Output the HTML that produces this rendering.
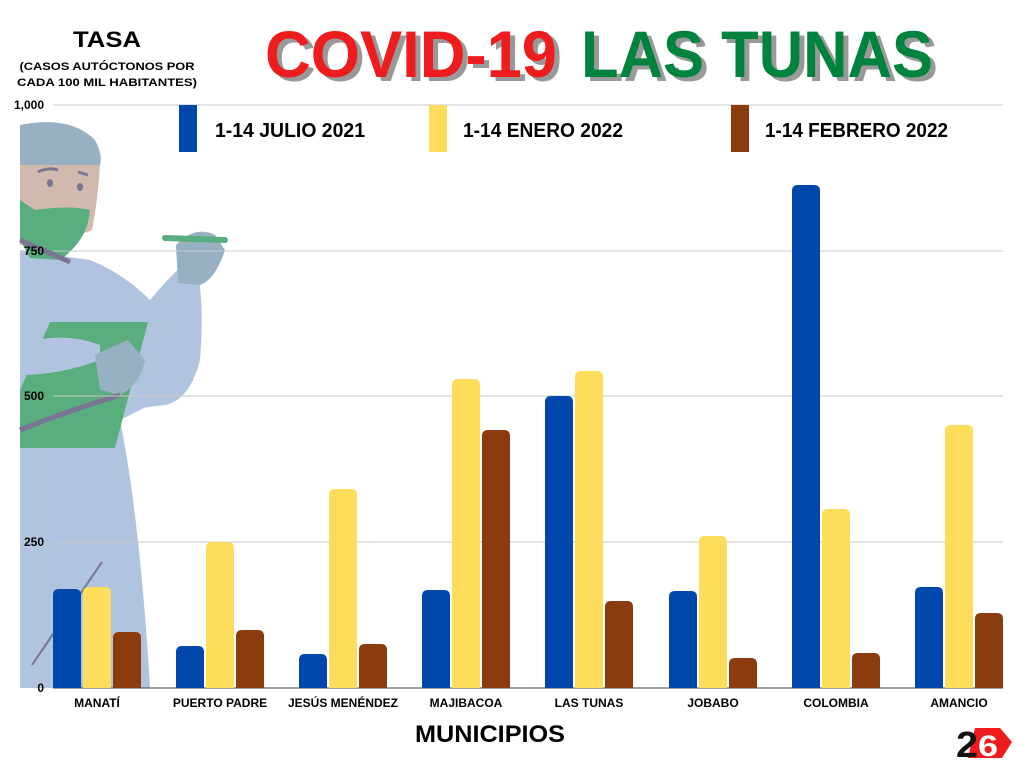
<!DOCTYPE html>
<html><head><meta charset="utf-8"><style>
html,body{margin:0;padding:0;background:#fff;}
svg{display:block;font-family:"Liberation Sans",sans-serif;}
</style></head><body>
<svg width="1024" height="768" viewBox="0 0 1024 768" xmlns="http://www.w3.org/2000/svg">
<rect width="1024" height="768" fill="#fff"/>
<!-- illustration -->
<g>
  <path d="M20,250 L90,260 Q140,280 175,330 L160,400 L120,420 Q140,520 150,688 L20,688 Z" fill="#b0c3df"/>
  <path d="M150,300 Q175,270 195,255 Q205,300 200,360 Q190,400 165,405 L125,410 Z" fill="#b0c3df"/>
  <path d="M20,125 Q70,115 95,140 Q103,155 100,165 L20,165 Z" fill="#97b0c2"/>
  <path d="M20,165 L100,165 Q98,200 92,230 L55,245 L20,245 Z" fill="#d2b9ad"/>
  <path d="M20,200 L35,210 Q70,205 90,210 Q88,240 60,260 L30,258 L20,240 Z" fill="#5aad7c"/>
  <path d="M20,240 L70,262" stroke="#7b7595" stroke-width="5" fill="none"/>
  <ellipse cx="50" cy="183" rx="3" ry="4" fill="#7b7595"/>
  <ellipse cx="80" cy="187" rx="3" ry="4" fill="#7b7595"/>
  <path d="M38,172 Q48,167 58,170 M78,172 L88,175" stroke="#7b7595" stroke-width="3" fill="none"/>
  <path d="M50,322 L148,322 L115,448 L20,448 L20,390 Z" fill="#5aad7c"/>
  <path d="M20,345 Q60,330 100,345 L100,360 Q60,375 20,375 Z" fill="#b0c3df"/>
  <path d="M95,355 Q115,345 128,340 L145,360 Q140,385 120,395 L100,390 Z" fill="#97b0c2"/>
  <path d="M20,430 Q70,410 120,395" stroke="#7b7595" stroke-width="5" fill="none"/>
  <path d="M176,245 Q195,225 215,235 L225,250 Q215,280 200,285 L178,283 Z" fill="#97b0c2"/>
  <path d="M165,238 L225,240" stroke="#5aad7c" stroke-width="6" stroke-linecap="round"/>
  <path d="M32,665 L102,562" stroke="#7b7595" stroke-width="2"/>
</g>
<!-- grid -->
<g stroke="#c8c8c8" stroke-width="1">
  <line x1="53" y1="105" x2="1003" y2="105"/>
  <line x1="53" y1="251" x2="1003" y2="251"/>
  <line x1="53" y1="396" x2="1003" y2="396"/>
  <line x1="53" y1="542" x2="1003" y2="542"/>
</g>
<line x1="53" y1="688" x2="1003" y2="688" stroke="#444" stroke-width="1"/>
<g font-size="12" font-weight="bold" fill="#000" text-anchor="end">
  <text x="44" y="109">1,000</text>
  <text x="44" y="255">750</text>
  <text x="44" y="400">500</text>
  <text x="44" y="546">250</text>
  <text x="44" y="692">0</text>
</g>
<!-- bars -->
<g id="bars"></g>
<g>
<!-- blue, yellow, brown per group: tops -->
</g>
<defs></defs>
<g>
<path d="M53,688 V595 q0,-6 6,-6 h16 q6,0 6,6 V688 Z" fill="#0047ab"/>
<path d="M83,688 V593 q0,-6 6,-6 h16 q6,0 6,6 V688 Z" fill="#ffdd5c"/>
<path d="M113,688 V638 q0,-6 6,-6 h16 q6,0 6,6 V688 Z" fill="#8b3c0e"/>

<path d="M176,688 V652 q0,-6 6,-6 h16 q6,0 6,6 V688 Z" fill="#0047ab"/>
<path d="M206,688 V548 q0,-6 6,-6 h16 q6,0 6,6 V688 Z" fill="#ffdd5c"/>
<path d="M236,688 V636 q0,-6 6,-6 h16 q6,0 6,6 V688 Z" fill="#8b3c0e"/>

<path d="M299,688 V660 q0,-6 6,-6 h16 q6,0 6,6 V688 Z" fill="#0047ab"/>
<path d="M329,688 V495 q0,-6 6,-6 h16 q6,0 6,6 V688 Z" fill="#ffdd5c"/>
<path d="M359,688 V650 q0,-6 6,-6 h16 q6,0 6,6 V688 Z" fill="#8b3c0e"/>

<path d="M422,688 V596 q0,-6 6,-6 h16 q6,0 6,6 V688 Z" fill="#0047ab"/>
<path d="M452,688 V385 q0,-6 6,-6 h16 q6,0 6,6 V688 Z" fill="#ffdd5c"/>
<path d="M482,688 V436 q0,-6 6,-6 h16 q6,0 6,6 V688 Z" fill="#8b3c0e"/>

<path d="M545,688 V402 q0,-6 6,-6 h16 q6,0 6,6 V688 Z" fill="#0047ab"/>
<path d="M575,688 V377 q0,-6 6,-6 h16 q6,0 6,6 V688 Z" fill="#ffdd5c"/>
<path d="M605,688 V607 q0,-6 6,-6 h16 q6,0 6,6 V688 Z" fill="#8b3c0e"/>

<path d="M669,688 V597 q0,-6 6,-6 h16 q6,0 6,6 V688 Z" fill="#0047ab"/>
<path d="M699,688 V542 q0,-6 6,-6 h16 q6,0 6,6 V688 Z" fill="#ffdd5c"/>
<path d="M729,688 V664 q0,-6 6,-6 h16 q6,0 6,6 V688 Z" fill="#8b3c0e"/>

<path d="M792,688 V191 q0,-6 6,-6 h16 q6,0 6,6 V688 Z" fill="#0047ab"/>
<path d="M822,688 V515 q0,-6 6,-6 h16 q6,0 6,6 V688 Z" fill="#ffdd5c"/>
<path d="M852,688 V659 q0,-6 6,-6 h16 q6,0 6,6 V688 Z" fill="#8b3c0e"/>

<path d="M915,688 V593 q0,-6 6,-6 h16 q6,0 6,6 V688 Z" fill="#0047ab"/>
<path d="M945,688 V431 q0,-6 6,-6 h16 q6,0 6,6 V688 Z" fill="#ffdd5c"/>
<path d="M975,688 V619 q0,-6 6,-6 h16 q6,0 6,6 V688 Z" fill="#8b3c0e"/>
</g>
<!-- x labels -->
<g font-size="12" font-weight="bold" fill="#000" text-anchor="middle">
  <text x="97" y="707">MANATÍ</text>
  <text x="220" y="707">PUERTO PADRE</text>
  <text x="343" y="707">JESÚS MENÉNDEZ</text>
  <text x="466" y="707">MAJIBACOA</text>
  <text x="589" y="707">LAS TUNAS</text>
  <text x="713" y="707">JOBABO</text>
  <text x="836" y="707">COLOMBIA</text>
  <text x="959" y="707">AMANCIO</text>
</g>
<text x="490" y="742" font-size="24" font-weight="bold" text-anchor="middle" textLength="150" lengthAdjust="spacingAndGlyphs">MUNICIPIOS</text>
<!-- legend -->
<rect x="179" y="105" width="18" height="47" fill="#0047ab"/>
<rect x="429" y="105" width="18" height="47" fill="#ffdd5c"/>
<rect x="731" y="105" width="18" height="47" fill="#8b3c0e"/>
<g font-size="20" font-weight="bold" fill="#000">
  <text x="215" y="137" textLength="150" lengthAdjust="spacingAndGlyphs">1-14 JULIO 2021</text>
  <text x="463" y="137" textLength="160" lengthAdjust="spacingAndGlyphs">1-14 ENERO 2022</text>
  <text x="765" y="137" textLength="183" lengthAdjust="spacingAndGlyphs">1-14 FEBRERO 2022</text>
</g>
<!-- tasa -->
<text x="107" y="47" font-size="22" font-weight="bold" text-anchor="middle" textLength="68" lengthAdjust="spacingAndGlyphs">TASA</text>
<g font-size="11" font-weight="bold" text-anchor="middle">
  <text x="107" y="70" textLength="175" lengthAdjust="spacingAndGlyphs">(CASOS AUTÓCTONOS POR</text>
  <text x="107" y="86" textLength="180" lengthAdjust="spacingAndGlyphs">CADA 100 MIL HABITANTES)</text>
</g>
<!-- title -->
<g font-size="66" font-weight="bold">
  <text x="270" y="81" fill="#999" textLength="292" lengthAdjust="spacingAndGlyphs">COVID-19</text>
  <text x="586" y="81" fill="#999" textLength="352" lengthAdjust="spacingAndGlyphs">LAS TUNAS</text>
  <text x="265" y="77" fill="#ee1c1c" textLength="292" lengthAdjust="spacingAndGlyphs">COVID-19</text>
  <text x="581" y="77" fill="#00843d" textLength="352" lengthAdjust="spacingAndGlyphs">LAS TUNAS</text>
</g>
<!-- logo -->
<path d="M975,728 L1000,728 L1012,742 L1002,758 L968,758 Z" fill="#ee1c1c"/>
<text x="956" y="757" font-size="36" font-weight="bold" fill="#111" textLength="22" lengthAdjust="spacingAndGlyphs">2</text>
<text x="978" y="756" font-size="30" font-weight="bold" fill="#fff" textLength="20" lengthAdjust="spacingAndGlyphs">6</text>
</svg>
</body></html>
